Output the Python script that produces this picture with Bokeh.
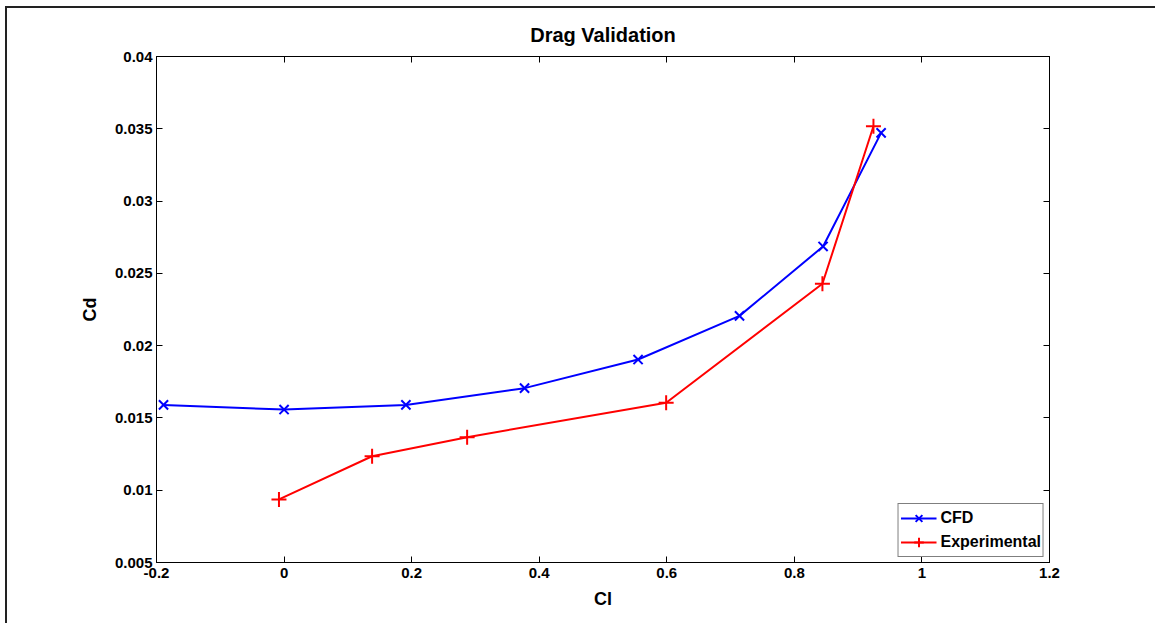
from bokeh.plotting import figure
from bokeh.models import LinearAxis, FixedTicker, Range1d, Legend, LegendItem
from bokeh.embed import file_html
from bokeh.resources import INLINE

# ---- data ----
cfd_cl = [-0.189, 0.0, 0.191, 0.377, 0.555, 0.714, 0.845, 0.936]
cfd_cd = [0.0159, 0.01558, 0.0159, 0.01706, 0.01904, 0.02206, 0.02686, 0.03472]
exp_cl = [-0.008, 0.138, 0.287, 0.599, 0.844, 0.924]
exp_cd = [0.00936, 0.01235, 0.01367, 0.01605, 0.02428, 0.03518]

x_ticks = [-0.2, 0, 0.2, 0.4, 0.6, 0.8, 1, 1.2]
x_tick_labels = ["-0.2", "0", "0.2", "0.4", "0.6", "0.8", "1", "1.2"]
y_ticks = [0.005, 0.01, 0.015, 0.02, 0.025, 0.03, 0.035, 0.04]
y_tick_labels = ["0.005", "0.01", "0.015", "0.02", "0.025", "0.03", "0.035", "0.04"]

title_text = "Drag Validation"
x_label = "Cl"
y_label = "Cd"
series_names = ["CFD", "Experimental"]

FONT = "Liberation Sans"

p = figure(width=1150, height=617, output_backend="svg", toolbar_location=None,
           x_range=Range1d(-0.2, 1.2), y_range=Range1d(0.005, 0.04),
           title=title_text, x_axis_label=x_label, y_axis_label=y_label,
           min_border_left=149, min_border_top=48, min_border_right=108, min_border_bottom=63)
p.margin = (6, 0, 0, 5)
p.styles = {"border-left": "2px solid #222", "border-top": "2px solid #222"}

p.title.align = "center"
p.title.text_font = FONT
p.title.text_font_size = "20px"
p.title.text_font_style = "bold"
p.title.text_color = "black"
p.title.standoff = 21

p.grid.visible = False
p.outline_line_color = "black"
p.outline_line_width = 1
p.background_fill_color = "white"
p.border_fill_color = "white"

def style_axis(ax, ticks, labels, show_labels=True):
    ax.ticker = FixedTicker(ticks=ticks)
    ax.major_label_overrides = {t: l for t, l in zip(ticks, labels)}
    ax.major_tick_in = 6
    ax.major_tick_out = 0
    ax.minor_tick_line_color = None
    ax.axis_line_color = "black"
    ax.major_tick_line_color = "black"
    ax.major_label_text_font = FONT
    ax.major_label_text_font_style = "bold"
    ax.major_label_text_font_size = "15px" if show_labels else "0px"
    ax.major_label_text_color = "black"
    ax.axis_label_text_font = FONT
    ax.axis_label_text_font_style = "bold"
    ax.axis_label_text_font_size = "18px"
    ax.axis_label_text_color = "black"

style_axis(p.xaxis[0], x_ticks, x_tick_labels)
style_axis(p.yaxis[0], y_ticks, y_tick_labels)
p.xaxis[0].major_label_standoff = 5
p.xaxis[0].axis_label_standoff = 8
p.yaxis[0].major_label_standoff = 4
p.yaxis[0].axis_label_standoff = 12

top_ax = LinearAxis()
right_ax = LinearAxis()
style_axis(top_ax, x_ticks, [""] * len(x_ticks), show_labels=False)
style_axis(right_ax, y_ticks, [""] * len(y_ticks), show_labels=False)
p.add_layout(top_ax, "above")
p.add_layout(right_ax, "right")

l1 = p.line(cfd_cl, cfd_cd, line_color="#0000FF", line_width=2)
m1 = p.scatter(cfd_cl, cfd_cd, marker="x", size=13, line_color="#0000FF", line_width=2)
l2 = p.line(exp_cl, exp_cd, line_color="#FF0000", line_width=2)
m2 = p.scatter(exp_cl, exp_cd, marker="cross", size=15, line_color="#FF0000", line_width=2)

legend = Legend(items=[LegendItem(label=series_names[0], renderers=[l1, m1]),
                       LegendItem(label=series_names[1], renderers=[l2, m2])],
                location="bottom_right")
legend.margin = 5
legend.padding = 2
legend.spacing = -1
legend.glyph_width = 36
legend.glyph_height = 24
legend.label_height = 20
legend.label_standoff = 4
legend.label_text_font = FONT
legend.label_text_font_style = "bold"
legend.label_text_font_size = "16px"
legend.label_text_color = "black"
legend.border_line_color = "black"
legend.border_line_width = 1
legend.background_fill_alpha = 1
p.add_layout(legend, "center")

open("out.html", "w").write(file_html(p, INLINE))
